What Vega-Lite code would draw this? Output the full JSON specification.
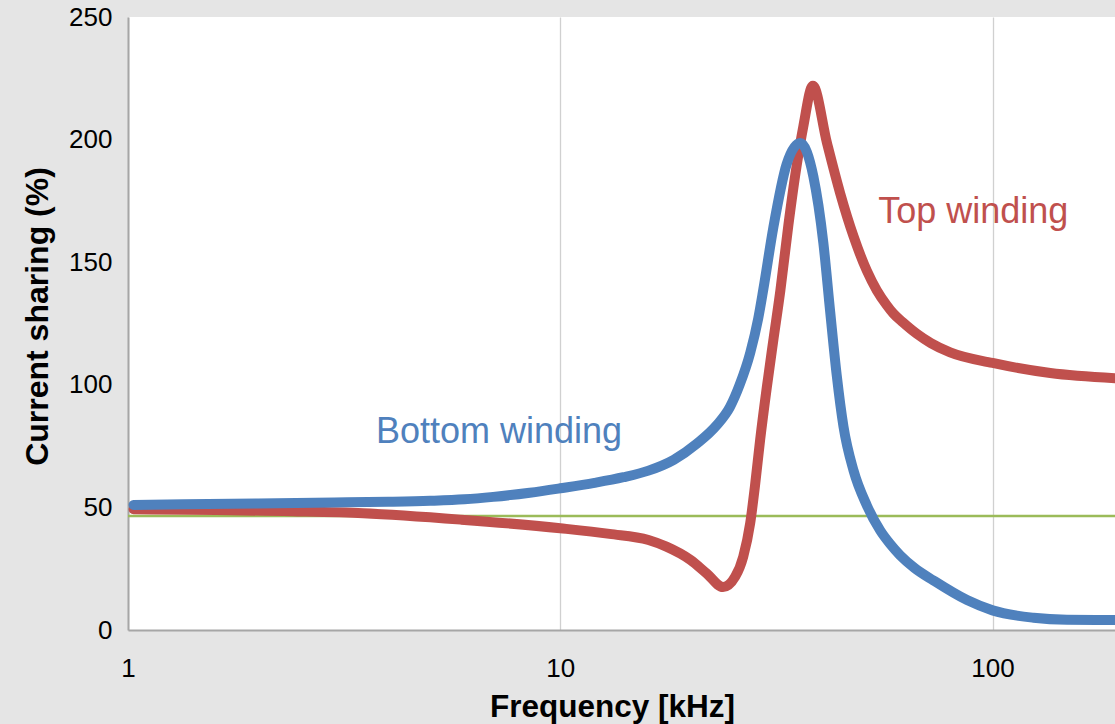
{
  "$schema": "https://vega.github.io/schema/vega-lite/v6.json",
  "width": 987,
  "height": 613,
  "autosize": {"type": "none"},
  "padding": {"left": 128, "top": 17, "right": 0, "bottom": 94},
  "background": "#e5e5e5",
  "config": {
    "view": {"fill": "#ffffff", "stroke": null},
    "font": "Liberation Sans"
  },
  "datasets": {
    "top": [
      {"freq": 1.03, "share": 49.2},
      {"freq": 2.4, "share": 48.4},
      {"freq": 3.5, "share": 47.6},
      {"freq": 5.9, "share": 45},
      {"freq": 10, "share": 41.5},
      {"freq": 13, "share": 39.2},
      {"freq": 16, "share": 36.7},
      {"freq": 17.6, "share": 34},
      {"freq": 20, "share": 28.6},
      {"freq": 21.8, "share": 23.1},
      {"freq": 23.8, "share": 17.5},
      {"freq": 25.4, "share": 21.8},
      {"freq": 26.5, "share": 29.9},
      {"freq": 27.5, "share": 43.5},
      {"freq": 28.2, "share": 58.5},
      {"freq": 29.0, "share": 77.6},
      {"freq": 30.05, "share": 99},
      {"freq": 31.1, "share": 118},
      {"freq": 32.3, "share": 138.5},
      {"freq": 33.7, "share": 165},
      {"freq": 35.2, "share": 189},
      {"freq": 36.5, "share": 205.4},
      {"freq": 38.4, "share": 222},
      {"freq": 41.4, "share": 198.6},
      {"freq": 44.4, "share": 178.2},
      {"freq": 47.7, "share": 160.5},
      {"freq": 51.2, "share": 146.5},
      {"freq": 54, "share": 138.5},
      {"freq": 56.9, "share": 132.5},
      {"freq": 59, "share": 129},
      {"freq": 62, "share": 125.5},
      {"freq": 66.8, "share": 120.8},
      {"freq": 72, "share": 117},
      {"freq": 79.8, "share": 113.2},
      {"freq": 100, "share": 108.9},
      {"freq": 136, "share": 104.8},
      {"freq": 192, "share": 102.7}
    ],
    "bottom": [
      {"freq": 1.03, "share": 51},
      {"freq": 2, "share": 51.6},
      {"freq": 3, "share": 52},
      {"freq": 4, "share": 52.3},
      {"freq": 5, "share": 52.7},
      {"freq": 6, "share": 53.3},
      {"freq": 7, "share": 54.3},
      {"freq": 8.5, "share": 56},
      {"freq": 10, "share": 57.8},
      {"freq": 12, "share": 60},
      {"freq": 14, "share": 62.3},
      {"freq": 16, "share": 65},
      {"freq": 18.3, "share": 69.4},
      {"freq": 20.7, "share": 76},
      {"freq": 23, "share": 83.5},
      {"freq": 24.7, "share": 91},
      {"freq": 26, "share": 100},
      {"freq": 27.5, "share": 113},
      {"freq": 28.7, "share": 127},
      {"freq": 29.5, "share": 139},
      {"freq": 31.1, "share": 164},
      {"freq": 33.4, "share": 190},
      {"freq": 35.9, "share": 198.6},
      {"freq": 38.5, "share": 185},
      {"freq": 40.6, "share": 158},
      {"freq": 42.1, "share": 130},
      {"freq": 43.6, "share": 104},
      {"freq": 45.2, "share": 83},
      {"freq": 47.7, "share": 65},
      {"freq": 51.2, "share": 50.8},
      {"freq": 55, "share": 40.5},
      {"freq": 58, "share": 35},
      {"freq": 61.1, "share": 30.5},
      {"freq": 66, "share": 25.3},
      {"freq": 73, "share": 20.2},
      {"freq": 87.3, "share": 12.2},
      {"freq": 100, "share": 8},
      {"freq": 124.4, "share": 5},
      {"freq": 148.7, "share": 4.2},
      {"freq": 192, "share": 4.1}
    ],
    "labels": [
      {"freq": 3.745, "share": 76.3, "label": "Bottom winding", "winding": "Bottom"},
      {"freq": 54.4, "share": 166.1, "label": "Top winding", "winding": "Top"}
    ]
  },
  "layer": [
    {
      "data": {"values": [{}]},
      "mark": {"type": "rule", "color": "#9bbb59", "strokeWidth": 2.5},
      "encoding": {"y": {"datum": 46.5, "type": "quantitative"}}
    },
    {
      "data": {"name": "top"},
      "mark": {"type": "line", "color": "#c0504d", "strokeWidth": 10, "strokeCap": "round", "strokeJoin": "round", "interpolate": "monotone"},
      "encoding": {
        "x": {
          "field": "freq", "type": "quantitative",
          "scale": {"type": "log", "domain": [1, 192], "nice": false},
          "axis": {
            "title": "Frequency [kHz]",
            "values": [1, 10, 100],
            "format": "d",
            "labelFontSize": 26,
            "labelColor": "#000000",
            "labelBaseline": "alphabetic",
            "labelPadding": 46,
            "labelFlush": false,
            "labelOverlap": false,
            "ticks": false,
            "tickSize": 0,
            "domainColor": "#a6a6a6",
            "domainWidth": 2,
            "gridColor": "#d0d0d0",
            "gridWidth": 1.3,
            "titleFontSize": 31.5,
            "titleFontWeight": "bold",
            "titleColor": "#000000",
            "titleX": 484,
            "titleY": 86,
            "titleBaseline": "alphabetic",
            "titleAlign": "center"
          }
        },
        "y": {
          "field": "share", "type": "quantitative",
          "scale": {"domain": [0, 250], "nice": false},
          "axis": {
            "title": "Current sharing (%)",
            "values": [0, 50, 100, 150, 200, 250],
            "labelFontSize": 26,
            "labelColor": "#000000",
            "labelPadding": 16,
            "labelBaseline": "middle",
            "ticks": false,
            "tickSize": 0,
            "domainColor": "#a6a6a6",
            "domainWidth": 2,
            "gridColor": {"condition": {"test": "datum.value === 250", "value": "#aaaaaa"}, "value": "#d0d0d0"},
            "gridWidth": {"condition": {"test": "datum.value === 250", "value": 2}, "value": 1.3},
            "titleFontSize": 32,
            "titleFontWeight": "bold",
            "titleColor": "#000000",
            "titleAngle": 270,
            "titleX": -91,
            "titleY": 299,
            "titleAlign": "center",
            "titleBaseline": "middle"
          }
        }
      }
    },
    {
      "data": {"name": "bottom"},
      "mark": {"type": "line", "color": "#4f81bd", "strokeWidth": 10, "strokeCap": "round", "strokeJoin": "round", "interpolate": "monotone"},
      "encoding": {
        "x": {"field": "freq", "type": "quantitative"},
        "y": {"field": "share", "type": "quantitative"}
      }
    },
    {
      "data": {"name": "labels"},
      "mark": {"type": "text", "align": "left", "baseline": "alphabetic", "fontSize": 36, "font": "Liberation Sans"},
      "encoding": {
        "x": {"field": "freq", "type": "quantitative"},
        "y": {"field": "share", "type": "quantitative"},
        "text": {"field": "label"},
        "color": {"field": "winding", "type": "nominal", "scale": {"domain": ["Top", "Bottom"], "range": ["#c0504d", "#4f81bd"]}, "legend": null}
      }
    }
  ]
}
